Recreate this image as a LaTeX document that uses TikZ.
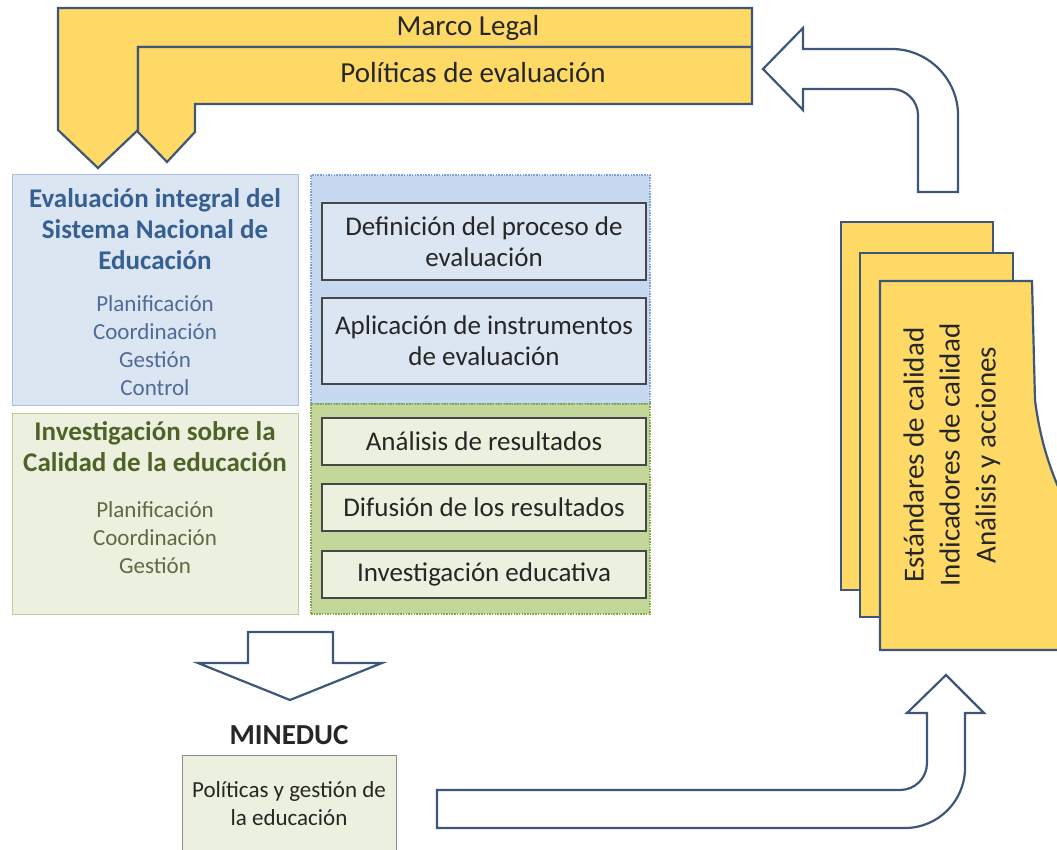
\documentclass[tikz,border=0pt]{standalone}
\usepackage{fontspec}
\setmainfont{Carlito}
\usetikzlibrary{positioning}
\definecolor{yfill}{HTML}{FFD966}
\definecolor{slate}{HTML}{3E5779}
\definecolor{ink}{HTML}{262626}
\definecolor{bluepale}{HTML}{DCE6F2}
\definecolor{blueline}{HTML}{A7BFDE}
\definecolor{bluezone}{HTML}{C6D9F1}
\definecolor{bluedot}{HTML}{7BA3D6}
\definecolor{bluehead}{HTML}{376092}
\definecolor{bluebody}{HTML}{4F6B97}
\definecolor{greenpale}{HTML}{EBF1DE}
\definecolor{greenline}{HTML}{BCCF94}
\definecolor{greenzone}{HTML}{C4D79B}
\definecolor{greendot}{HTML}{86A84A}
\definecolor{greenhead}{HTML}{4F6228}
\definecolor{greenbody}{HTML}{5D6A45}

\begin{document}
\begin{tikzpicture}[x=1pt,y=-1pt,
  band/.style={fill=yfill,draw=slate,line width=2.2pt},
  bandtext/.style={text=ink,font=\fontsize{29}{35}\selectfont},
  hollow/.style={fill=white,draw=slate,line width=2.2pt},
  panel/.style={draw=#1line,fill=#1pale,line width=1pt,inner sep=0pt,minimum width=286pt},
  zone/.style={draw=#1dot,fill=#1zone,line width=1.8pt,dash pattern=on 1.5pt off 1.2pt,inner sep=0pt,minimum width=339pt},
  head/.style={align=center,font=\bfseries\fontsize{27}{31}\selectfont},
  body/.style={align=center,font=\fontsize{23}{28}\selectfont},
  task/.style={draw=ink!85,fill=#1pale,line width=1.2pt,inner sep=0pt,minimum width=324pt,
    align=center,text=ink,font=\fontsize{27}{31}\selectfont},
  card/.style={band,inner sep=0pt}]
  \useasboundingbox (0,0) rectangle (1057,850);

  \draw[band] (58,8) -- (752,8) -- (752,47) -- (138,47) -- (138,130) -- (98,168) -- (58,130) -- cycle;
  \draw[band] (138,47) -- (752,47) -- (752,104) -- (195,104) -- (195,132) -- (167,162) -- (138,132) -- cycle;
  \node[bandtext] (marco) at (468,28) {Marco Legal};
  \node[bandtext] (politicas) at (473,73) {Políticas de evaluación};

  \node[panel=blue,minimum height=230pt] (sne) at (155,290) {};
  \node[head,text=bluehead] (sneT) at (155,229) {Evaluación integral del\\Sistema Nacional de\\Educación};
  \node[body,text=bluebody] (sneB) at (155,346) {Planificación\\Coordinación\\Gestión\\Control};
  \node[panel=green,minimum height=201pt] (inv) at (155,513.5) {};
  \node[head,text=greenhead] (invT) at (155,447) {Investigación sobre la\\Calidad de la educación};
  \node[body,text=greenbody] (invB) at (155,538) {Planificación\\Coordinación\\Gestión};

  \node[zone=blue,minimum height=229pt] (bzone) at (480.5,289.5) {};
  \node[zone=green,minimum height=210pt] (gzone) at (480.5,509) {};
  \node[task=blue,minimum height=77pt] (def) at (484,241.5) {Definición del proceso de\\evaluación};
  \node[task=blue,minimum height=86pt] (apl) at (484,341) {Aplicación de instrumentos\\de evaluación};
  \node[task=green,minimum height=47pt] (ana) at (484,441.5) {Análisis de resultados};
  \node[task=green,minimum height=47pt] (dif) at (484,507.5) {Difusión de los resultados};
  \node[task=green,minimum height=47pt] (ied) at (484,574.5) {Investigación educativa};

  \draw[hollow] (248,632) -- (333,632) -- (333,663) -- (382,663) -- (290,700) -- (198,663) -- (248,663) -- cycle;
  \node[draw=black!45,fill=greenpale,line width=1pt,inner sep=0pt,minimum width=214pt,minimum height=98pt,
    align=center,text=ink,font=\fontsize{23}{28}\selectfont] (polbox) at (289,804) {Políticas y gestión de\\la educación};
  \node[text=ink,font=\bfseries\fontsize{29}{35}\selectfont] (mineduc) [above=6pt of polbox] {MINEDUC};

  \draw[hollow] (437,790) -- (900,790) .. controls (915,790) and (927,778) .. (927,763) -- (927,713)
    -- (907,713) -- (946,675) -- (984,713) -- (965,713) -- (965,768)
    .. controls (965,801) and (938,828) .. (905,828) -- (437,828) -- cycle;

  \node[card,minimum width=152pt,minimum height=368pt] (card1) at (917,406) {};
  \node[card,minimum width=153pt,minimum height=364pt] (card2) at (936.5,435) {};
  \draw[band] (880,281) -- (1032,281) -- (1035,400) .. controls (1040,440) and (1050,470) .. (1064,500)
    -- (1070,650) -- (880,650) -- cycle;
  \node[rotate=90,align=center,text=ink,font=\fontsize{29}{36}\selectfont] (stack) at (952,455)
    {Estándares de calidad\\Indicadores de calidad\\Análisis y acciones};

  \draw[hollow] (763,69) -- (803,28) -- (803,49) -- (892,49) .. controls (928,49) and (958,79) .. (958,115)
    -- (958,192) -- (918,192) -- (918,115) .. controls (918,101) and (906,89) .. (892,89)
    -- (803,89) -- (803,110) -- cycle;
\end{tikzpicture}
\end{document}
